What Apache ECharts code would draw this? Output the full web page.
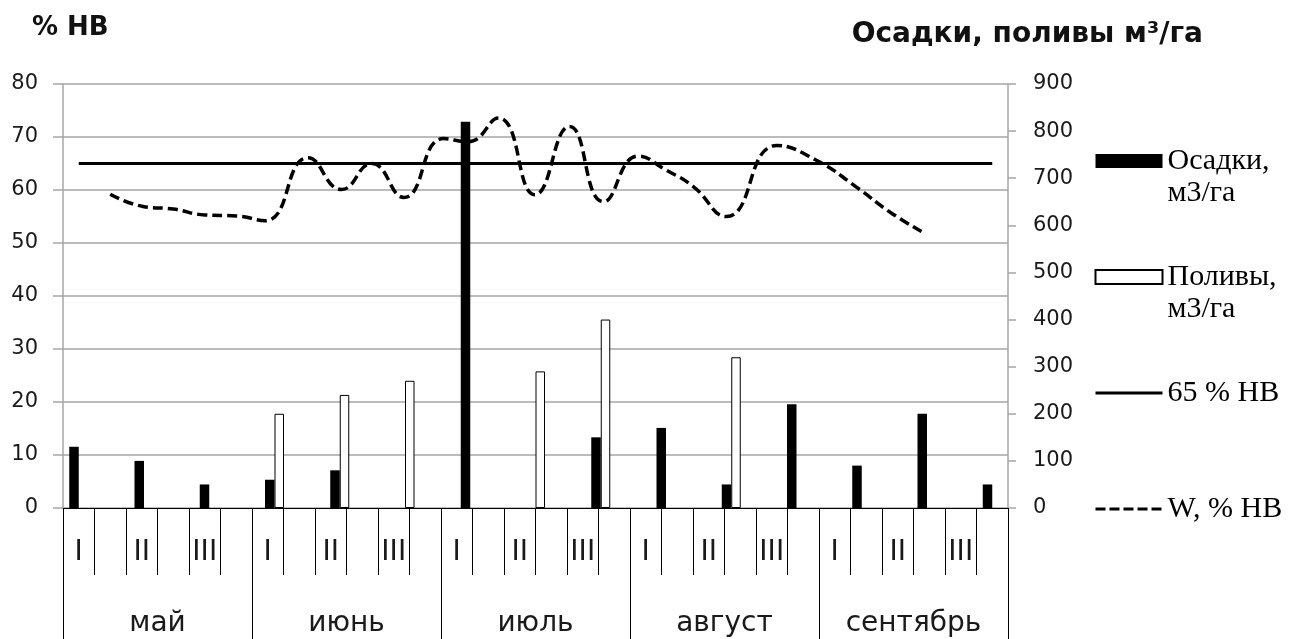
<!DOCTYPE html>
<html>
<head>
<meta charset="utf-8">
<script src="https://cdn.jsdelivr.net/npm/echarts@6/dist/echarts.min.js"></script>
<style>
html,body{margin:0;padding:0;background:#fff;}
#chart{width:1291px;height:639px;}
</style>
</head>
<body>
<div id="chart"></div>
<script>
// ---- data ----
const subLabels = ['I','','II','','III','','I','','II','','III','','I','','II','','III','','I','','II','','III','','I','','II','','III',''];
const months = ['май','июнь','июль','август','сентябрь'];
const decades = ['май I','май II','май III','июнь I','июнь II','июнь III','июль I','июль II','июль III','август I','август II','август III','сентябрь I','сентябрь II','сентябрь III'];
const osadki = [130, 100, 50, 60, 80, 0, 820, 0, 150, 170, 50, 220, 90, 200, 50];
const polivy = [0, 0, 0, 200, 240, 270, 0, 290, 400, 0, 320, 0, 0, 0, 0];
const norm65 = [65, 65, 65, 65, 65, 65, 65, 65, 65, 65, 65, 65, 65, 65, 65];
// W, % НВ: day of season (May 1 = 0, 5 days per sub-column) and value
const wDay =   [7.5, 12.7, 17.5, 22.5, 27.6, 32.1, 38.9, 44.2, 49.0, 54.1, 60.4, 64.3, 69.1, 74.9, 80.4, 85.8, 91.3, 95.8, 100.0, 105.3, 113.3, 119.6, 126.0, 131.3, 136.8];
const wValue = [59.2, 56.9, 56.4, 55.3, 55.1, 54.2, 66.1, 60.1, 65.0, 58.6, 69.7, 69.1, 73.6, 59.1, 72.0, 57.8, 66.4, 63.7, 60.7, 55.0, 68.4, 65.6, 60.5, 55.8, 51.8];
const leftAxis = {min: 0, max: 80, step: 10};
const rightAxis = {min: 0, max: 900, step: 100};
const seasonDays = 150;

const chart = echarts.init(document.getElementById('chart'), null, {renderer: 'canvas'});
const GRAY = '#a6a6a6';
const tickFont = {fontFamily: 'DejaVu Sans', fontSize: 21, color: '#1a1a1a'};
const catFont = {fontFamily: 'DejaVu Sans', fontSize: 28, color: '#1a1a1a'};
const noSymbol = {color: 'rgba(0,0,0,0)', borderWidth: 0, opacity: 0};

const option = {
  animation: false,
  backgroundColor: '#ffffff',
  title: [
    {text: '% НВ', left: 32, top: 15, padding: 0, textStyle: {fontFamily: 'DejaVu Sans', fontWeight: 'bold', fontSize: 26, color: '#111'}},
    {text: 'Осадки, поливы м³/га', right: 88, top: 21, padding: 0, textStyle: {fontFamily: 'DejaVu Sans', fontWeight: 'bold', fontSize: 28, color: '#111'}}
  ],
  legend: {
    orient: 'vertical',
    left: 1094,
    top: 113,
    padding: 0,
    itemWidth: 67,
    itemHeight: 14,
    itemGap: 20,
    selectedMode: false,
    formatter: name => '\n' + name + (name.indexOf('\n') < 0 ? '\n' : ''),
    textStyle: {fontFamily: 'Liberation Serif', fontSize: 30, lineHeight: 32, color: '#000'},
    data: [
      {name: 'Осадки,\nм3/га', icon: 'rect'},
      {name: 'Поливы,\nм3/га', icon: 'rect'},
      {name: '65 % НВ', itemStyle: noSymbol, lineStyle: {color: '#000', width: 3, type: 'solid'}},
      {name: 'W, % НВ', itemStyle: noSymbol, lineStyle: {color: '#000', width: 3, type: [10, 4]}}
    ]
  },
  grid: [
    {left: 63, right: 283, top: 84, bottom: 131},
    {left: 78.75, right: 298.75, top: 84, bottom: 131},
    {left: 63, right: 283, top: 575, bottom: 0}
  ],
  xAxis: [
    {
      type: 'category', gridIndex: 0, data: subLabels, boundaryGap: true, position: 'bottom',
      axisLine: {show: true, lineStyle: {color: '#000', width: 1}},
      axisTick: {show: true, interval: 0, length: 67, lineStyle: {color: '#000', width: 1}},
      axisLabel: Object.assign({interval: 0, margin: 45, verticalAlign: 'middle'}, catFont),
      splitLine: {show: false}
    },
    {
      type: 'category', gridIndex: 0, data: months, boundaryGap: true, position: 'bottom', offset: 67,
      axisLine: {show: false},
      axisTick: {show: false},
      axisLabel: Object.assign({interval: 0, margin: 49, verticalAlign: 'middle'}, catFont),
      splitLine: {show: false}
    },
    {
      type: 'category', gridIndex: 1, data: decades, boundaryGap: false, show: false
    },
    {
      type: 'value', gridIndex: 0, min: 0, max: seasonDays, show: false
    },
    {
      type: 'category', gridIndex: 2, data: months, boundaryGap: true, position: 'top',
      axisLine: {show: false}, axisTick: {show: false}, axisLabel: {show: false},
      splitLine: {show: true, interval: 0, lineStyle: {color: '#000', width: 1}}
    }
  ],
  yAxis: [
    {
      type: 'value', gridIndex: 0, position: 'left', min: leftAxis.min, max: leftAxis.max, interval: leftAxis.step,
      axisLine: {show: true, lineStyle: {color: GRAY, width: 1.5}},
      axisTick: {show: true, length: 10, lineStyle: {color: GRAY, width: 1.5}},
      axisLabel: Object.assign({margin: 25}, tickFont),
      splitLine: {show: true, lineStyle: {color: GRAY, width: 1.5}}
    },
    {
      type: 'value', gridIndex: 0, position: 'right', min: rightAxis.min, max: rightAxis.max, interval: rightAxis.step,
      axisLine: {show: true, lineStyle: {color: GRAY, width: 1.5}},
      axisTick: {show: true, length: 8, lineStyle: {color: GRAY, width: 1.5}},
      axisLabel: Object.assign({margin: 25}, tickFont),
      splitLine: {show: false}
    },
    {
      type: 'value', gridIndex: 1, min: rightAxis.min, max: rightAxis.max, show: false, splitLine: {show: false}
    },
    {
      type: 'value', gridIndex: 2, show: false, splitLine: {show: false}
    }
  ],
  series: [
    {
      name: 'Осадки,\nм3/га', type: 'bar', xAxisIndex: 2, yAxisIndex: 2,
      data: osadki.map(v => v === 0 ? '-' : v),
      barWidth: 9.5, barGap: '0%',
      itemStyle: {color: '#000'}, z: 2
    },
    {
      name: 'Поливы,\nм3/га', type: 'bar', xAxisIndex: 2, yAxisIndex: 2,
      data: polivy.map(v => v === 0 ? '-' : v),
      barWidth: 9.5, barGap: '0%',
      itemStyle: {color: '#fff', borderColor: '#000', borderWidth: 1}, z: 2
    },
    {
      name: '65 % НВ', type: 'line', xAxisIndex: 2, yAxisIndex: 2,
      data: norm65.map(v => v * rightAxis.max / leftAxis.max),
      symbol: 'none', lineStyle: {color: '#000', width: 3}, itemStyle: {color: '#000'}, z: 3
    },
    {
      name: 'W, % НВ', type: 'line', xAxisIndex: 3, yAxisIndex: 0,
      data: wDay.map((d, i) => [d, wValue[i]]),
      smooth: 0.5, symbol: 'none',
      lineStyle: {color: '#000', width: 3.5, type: [10, 5]}, itemStyle: {color: '#000'}, z: 4
    }
  ]
};
chart.setOption(option);
</script>
</body>
</html>
